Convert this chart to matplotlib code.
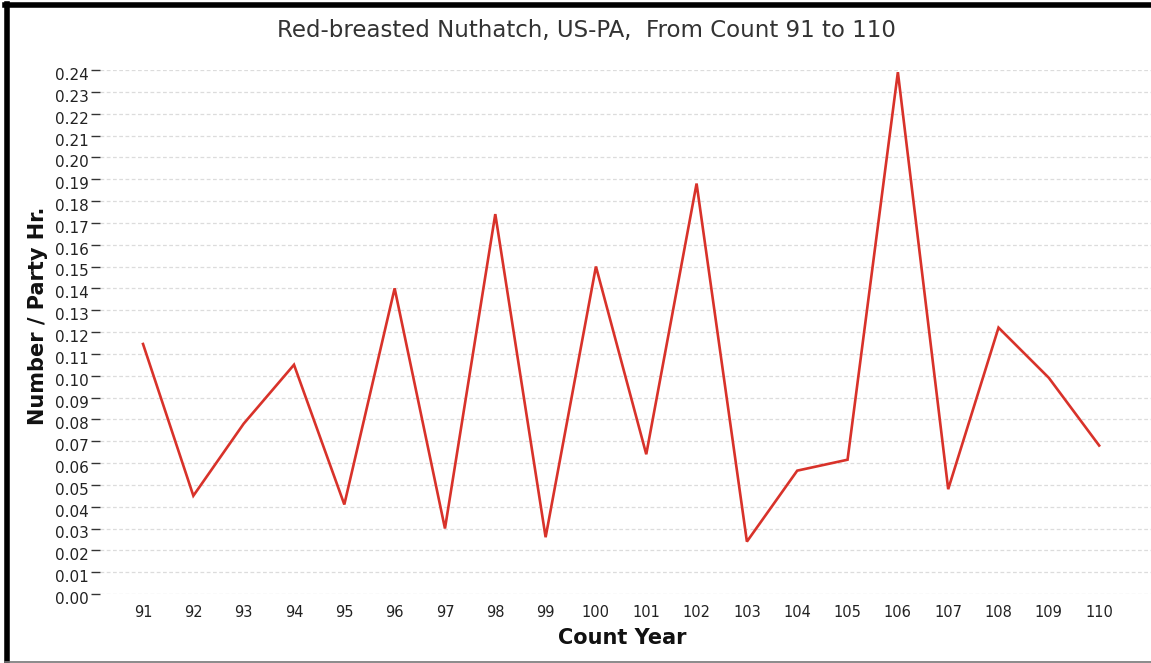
import numpy as np
import matplotlib
matplotlib.use("Agg")
import matplotlib.pyplot as plt
from matplotlib.lines import Line2D
from matplotlib.transforms import ScaledTranslation

# count years and number per party hour
years = [91, 92, 93, 94, 95, 96, 97, 98, 99, 100,
         101, 102, 103, 104, 105, 106, 107, 108, 109, 110]
per_party_hr = [0.1145, 0.045, 0.078, 0.105, 0.041, 0.140, 0.030, 0.174, 0.026, 0.150,
                0.064, 0.188, 0.024, 0.0565, 0.0615, 0.239, 0.048, 0.122, 0.099, 0.068]
y_ticks = np.round(np.arange(0, 0.2401, 0.01), 2)

plt.rcParams['font.family'] = ['DejaVu Sans']

fig = plt.figure(figsize=(11.51, 6.63), dpi=100)
ax = fig.add_axes([100/1151, 69/663, 1 - 100/1151, (594 - 70)/663])

ax.plot(years, per_party_hr, color='#d8322a', lw=1.9, clip_on=False,
        solid_joinstyle='miter')

ax.set_xlim(90.145, 111.03)
ax.set_ylim(0, 0.24)
ax.set_xticks(years)
ax.set_xticklabels([str(y) for y in years])
ax.set_yticks(y_ticks)
ax.set_yticklabels(["%.2f" % v for v in y_ticks])

ax.grid(axis='y', color='#dcdcdc', lw=0.9, ls=(0, (3, 2)))
ax.set_axisbelow(True)
for s in ax.spines.values():
    s.set_visible(False)

ax.tick_params(axis='x', length=0, pad=8, labelsize=10.5, labelcolor='#222222')
ax.tick_params(axis='y', length=6.5, width=1, color='#333333', pad=1.5,
               labelsize=11, labelcolor='#222222')
off = ScaledTranslation(0, -4/100, fig.dpi_scale_trans)
for lab in ax.get_yticklabels():
    lab.set_transform(lab.get_transform() + off)

fig.text(586/1151, 1 - 30/663, "Red-breasted Nuthatch, US-PA,  From Count 91 to 110",
         ha='center', va='center', fontsize=16.5, color='#333333')
fig.text(622/1151, 1 - 638/663, "Count Year", ha='center', va='center',
         fontsize=15, fontweight='bold', color='#111111')
fig.text(38/1151, 1 - 316/663, "Number / Party Hr.", ha='center', va='center',
         rotation=90, fontsize=15, fontweight='bold', color='#111111')

# frame around the picture
fig.add_artist(Line2D([7.5/1151, 7.5/1151], [0, 1 - 4/663], color='black', lw=4,
                      transform=fig.transFigure))
fig.add_artist(Line2D([5/1151, 1], [1 - 5/663, 1 - 5/663], color='black', lw=4,
                      transform=fig.transFigure))
fig.add_artist(Line2D([5/1151, 1], [1.5/663, 1.5/663], color='#777777', lw=1.2,
                      transform=fig.transFigure))

fig.savefig("out.png", dpi=100)
